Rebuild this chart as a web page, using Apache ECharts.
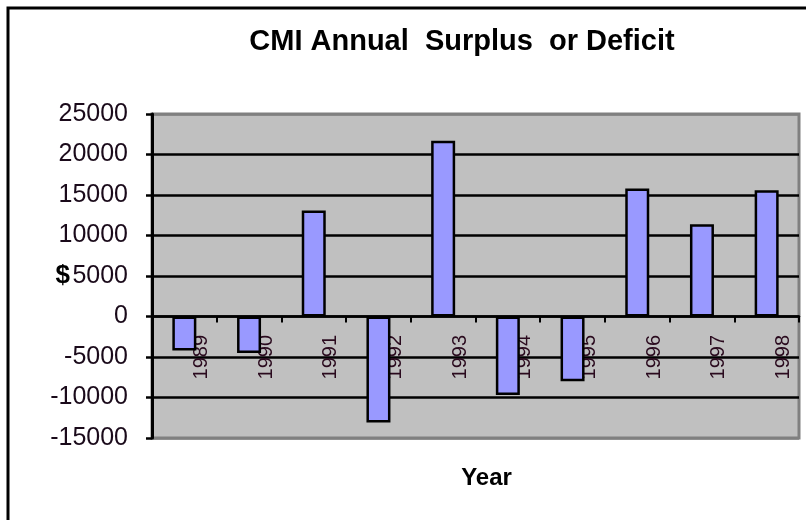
<!DOCTYPE html>
<html>
<head>
<meta charset="utf-8">
<script src="https://cdn.jsdelivr.net/npm/echarts@6/dist/echarts.min.js"></script>
<style>
  html, body { margin: 0; padding: 0; background: #fff; }
  #chart { width: 806px; height: 520px; }
</style>
</head>
<body>
<div id="chart"></div>
<script>
  // fiscal years and the surplus (+) or deficit (-) in $
  var years = ['1989', '1990', '1991', '1992', '1993', '1994', '1995', '1996', '1997', '1998']
  var surplus = [-4200, -4500, 13100, -13100, 21700, -9700, -8000, 15800, 11400, 15600]
  var yMin = -15000
  var yMax = 25000
  var yStep = 5000

  var font = 'Liberation Sans, Arial, sans-serif'
  // inner grid lines black, the top and bottom ones are the grey plot frame
  var gridColors = ['#808080', '#000', '#000', '#000', '#000', '#000', '#000', '#000', '#808080']
  var myChart = echarts.init(document.getElementById('chart'))
  myChart.setOption({
    animation: false,
    title: {
      text: 'CMI Annual  Surplus  or Deficit',
      left: 457,
      top: 22,
      textAlign: 'center',
      textStyle: { fontFamily: font, fontSize: 29, fontWeight: 'bold', color: '#000' }
    },
    graphic: [
      {
        type: 'rect',
        shape: { x: 8, y: 8, width: 840, height: 560 },
        style: { fill: 'none', stroke: '#000', lineWidth: 3 },
        silent: true
      }
    ],
    grid: {
      left: 152,
      right: 7,
      top: 114,
      bottom: 82,
      show: true,
      backgroundColor: '#c0c0c0',
      borderColor: '#808080',
      borderWidth: 3,
      outerBoundsMode: 'none'
    },
    xAxis: {
      type: 'category',
      data: years,
      name: 'Year',
      nameLocation: 'middle',
      nameGap: 28,
      nameTextStyle: { fontFamily: font, fontSize: 24, fontWeight: 'bold', color: '#000', padding: [0, 0, 0, 22] },
      axisLine: { onZero: true, lineStyle: { color: '#000', width: 2.5 } },
      axisTick: { show: true, length: 6, lineStyle: { color: '#000', width: 2 } },
      axisLabel: {
        rotate: 90,
        margin: -103,
        verticalAlign: 'top',
        padding: [7, 0, 0, 0],
        fontFamily: font,
        fontSize: 20,
        color: '#2a0a1e'
      },
      splitLine: { show: false }
    },
    yAxis: {
      type: 'value',
      min: yMin,
      max: yMax,
      interval: yStep,
      name: '$',
      nameLocation: 'middle',
      nameRotate: 0,
      nameGap: 82,
      nameMoveOverlap: false,
      nameTextStyle: { fontFamily: font, fontSize: 26, fontWeight: 'bold', color: '#000', padding: [32, 0, 0, 0] },
      axisLine: { show: true, lineStyle: { color: '#000', width: 3 } },
      axisTick: { show: true, length: 6, lineStyle: { color: '#000', width: 2.5 } },
      axisLabel: {
        margin: 24,
        fontFamily: font,
        fontSize: 25,
        color: '#1a0a1a',
        formatter: function (v) { return String(v) }
      },
      splitLine: { show: true, lineStyle: { color: gridColors, width: 2.5 } }
    },
    series: [
      {
        type: 'bar',
        data: surplus,
        barWidth: 24,
        itemStyle: { color: '#9999ff', borderColor: '#000', borderWidth: 2.5 }
      }
    ]
  })
</script>
</body>
</html>
